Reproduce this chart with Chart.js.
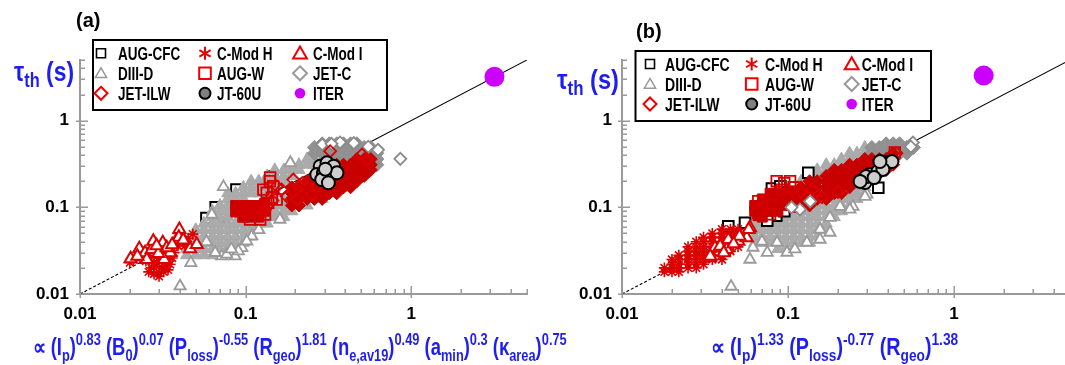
<!DOCTYPE html>
<html><head><meta charset="utf-8">
<script src="https://cdn.jsdelivr.net/npm/chart.js@4/dist/chart.umd.min.js"></script>
<style>
html,body{margin:0;padding:0;background:#fff;overflow:hidden;width:1065px;height:365px}
#wrap{position:relative;width:1065px;height:365px;overflow:hidden;background:#fff}
.layer{position:absolute;left:0;top:0}
</style></head><body>
<div id="wrap">
<canvas id="ca" class="layer" width="1065" height="365"></canvas>
<canvas id="cb" class="layer" width="1080" height="365"></canvas>
</div>
<script>
// ================= DATA =================
const xTickValues = [0.01,0.02,0.03,0.04,0.05,0.06,0.07,0.08,0.09,0.1,0.2,0.3,0.4,0.5,0.6,0.7,0.8,0.9,1,2,3,4,5];
const yTickValues = [0.01,0.02,0.03,0.04,0.05,0.06,0.07,0.08,0.09,0.1,0.2,0.3,0.4,0.5,0.6,0.7,0.8,0.9,1,2,3,4,5];
const majorTickValues = [0.01,0.1,1];
const majorTickLabels = ['0.01','0.1','1'];
const legendLabels = ['AUG-CFC','C-Mod H','C-Mod I','DIII-D','AUG-W','JET-C','JET-ILW','JT-60U','ITER'];
const fitLine = [[0.01,0.01],[0.06,0.06],[5,5]];

// ---- panel (a) ----
const aDIIIDCloud = [[0.044,0.028],[0.044,0.033],[0.044,0.039],
[0.05,0.028],[0.05,0.033],[0.05,0.039],[0.05,0.046],[0.05,0.055],
[0.056,0.028],[0.056,0.033],[0.056,0.039],[0.056,0.046],[0.056,0.055],[0.056,0.065],
[0.063,0.028],[0.063,0.033],[0.063,0.039],[0.063,0.046],[0.063,0.055],[0.063,0.065],[0.063,0.077],[0.063,0.09],
[0.07,0.028],[0.07,0.033],[0.07,0.039],[0.07,0.046],[0.07,0.055],[0.07,0.065],[0.07,0.077],[0.07,0.09],[0.07,0.105],
[0.078,0.033],[0.078,0.039],[0.078,0.046],[0.078,0.055],[0.078,0.065],[0.078,0.077],[0.078,0.09],[0.078,0.105],[0.078,0.125],[0.078,0.145],
[0.087,0.033],[0.087,0.039],[0.087,0.046],[0.087,0.055],[0.087,0.065],[0.087,0.125],[0.087,0.145],
[0.097,0.039],[0.097,0.046],[0.097,0.055],[0.097,0.065],[0.097,0.125],[0.097,0.145],[0.097,0.17],
[0.108,0.046],[0.108,0.055],[0.108,0.065],[0.108,0.145],[0.108,0.17],[0.108,0.2],
[0.12,0.055],[0.12,0.065],[0.12,0.145],[0.12,0.17],[0.12,0.2],
[0.135,0.065],[0.135,0.077],[0.135,0.09],[0.135,0.105],[0.135,0.125],[0.135,0.145],[0.135,0.17],[0.135,0.2],[0.135,0.23],
[0.15,0.077],[0.15,0.09],[0.15,0.105],[0.15,0.125],[0.15,0.145],[0.15,0.17],[0.15,0.2],[0.15,0.23],[0.15,0.27],
[0.17,0.077],[0.17,0.09],[0.17,0.105],[0.17,0.125],[0.17,0.2],[0.17,0.23],[0.17,0.27],
[0.19,0.09],[0.19,0.105],[0.19,0.23],[0.19,0.27],[0.19,0.31],
[0.21,0.105],[0.21,0.27],[0.21,0.31],
[0.235,0.105],[0.235,0.125],[0.235,0.31],[0.235,0.36],
[0.26,0.125],[0.26,0.31],[0.26,0.36],
[0.29,0.125],[0.29,0.145],[0.29,0.36],
[0.32,0.145],[0.32,0.36],[0.32,0.42]];
const aDIIIDOpen = [[0.0735,0.172],[0.0625,0.0826],[0.0402,0.0123],[0.0467,0.0229],[0.0948,0.0341],[0.109,0.0464],[0.0864,0.0273],[0.0718,0.0273],[0.161,0.0723],[0.186,0.326],[0.0655,0.0299],[0.0769,0.0286],[0.1016,0.0406],[0.0904,0.0312],[0.058,0.04],[0.082,0.033],[0.12,0.055]];
const aJETCCloud = [[0.26,0.42],[0.26,0.49],[0.29,0.42],[0.29,0.49],[0.29,0.54],[0.32,0.42],[0.32,0.49],[0.32,0.54],
[0.355,0.36],[0.355,0.42],[0.355,0.49],[0.355,0.54],[0.39,0.36],[0.39,0.42],[0.39,0.49],[0.39,0.54],
[0.43,0.36],[0.43,0.42],[0.43,0.49],[0.43,0.54],[0.47,0.36],[0.47,0.42],[0.47,0.49],[0.47,0.54],
[0.52,0.31],[0.52,0.36],[0.52,0.42],[0.52,0.49],[0.57,0.31],[0.57,0.36],[0.57,0.42],[0.57,0.49],
[0.62,0.31],[0.62,0.36],[0.62,0.42],[0.45,0.2],[0.5,0.23],[0.55,0.26],[0.4,0.18]];
const aJETCOpen = [[0.29,0.53],[0.372,0.56],[0.55,0.5],[0.859,0.362],[0.63,0.46],[0.33,0.54],[0.45,0.55]];
const aAUGCFC = [[0.145,0.226],[0.075,0.058],[0.088,0.16],[0.083,0.13],[0.066,0.1],[0.1,0.07],[0.058,0.075]];
const aCModH = [[0.026,0.018],[0.028,0.017],[0.030,0.0175],[0.032,0.018],[0.034,0.019],[0.027,0.020],[0.029,0.021],[0.031,0.020],[0.033,0.021],[0.035,0.022],[0.028,0.023],[0.030,0.024],[0.032,0.023],[0.034,0.025],[0.036,0.026],[0.025,0.024],[0.023,0.026],[0.021,0.025],[0.026,0.028],[0.029,0.027],[0.031,0.029],[0.034,0.031],[0.037,0.030],[0.039,0.036],[0.042,0.040],[0.045,0.044],[0.048,0.049],[0.043,0.036],[0.030,0.016],[0.024,0.031],[0.027,0.034],[0.020,0.023]];
const aAUGWCloud = [[0.087,0.09],[0.087,0.105],[0.092,0.1],[0.097,0.077],[0.097,0.09],[0.097,0.105],[0.103,0.084],[0.108,0.077],[0.108,0.09],[0.108,0.105],[0.115,0.098],[0.12,0.077],[0.12,0.09],[0.12,0.105],[0.13,0.09],[0.13,0.11]];
const aAUGWOpen = [[0.1406,0.221],[0.147,0.175],[0.134,0.147],[0.144,0.129],[0.137,0.113],[0.154,0.123],[0.0927,0.103],[0.1016,0.0944],[0.1115,0.103],[0.117,0.0865],[0.097,0.0789],[0.1224,0.0723],[0.0885,0.0902],[0.1064,0.0723],[0.125,0.103],[0.131,0.0826],[0.14,0.2],[0.128,0.16]];
const aJETILWCloud = [[0.19,0.105],[0.19,0.125],[0.19,0.145],[0.19,0.17],
[0.21,0.105],[0.21,0.125],[0.21,0.145],[0.21,0.17],
[0.235,0.125],[0.235,0.145],[0.235,0.17],[0.235,0.2],
[0.26,0.125],[0.26,0.145],[0.26,0.17],[0.26,0.2],[0.26,0.23],
[0.29,0.125],[0.29,0.145],[0.29,0.17],[0.29,0.2],[0.29,0.23],[0.29,0.27],
[0.32,0.145],[0.32,0.17],[0.32,0.2],[0.32,0.23],[0.32,0.27],
[0.355,0.145],[0.355,0.17],[0.355,0.2],[0.355,0.23],[0.355,0.27],[0.355,0.31],
[0.39,0.17],[0.39,0.2],[0.39,0.23],[0.39,0.27],[0.39,0.31],
[0.43,0.17],[0.43,0.2],[0.43,0.23],[0.43,0.27],[0.43,0.31],
[0.47,0.2],[0.47,0.23],[0.47,0.27],[0.47,0.31],[0.47,0.36],
[0.52,0.23],[0.52,0.27],[0.52,0.31],[0.52,0.36],
[0.57,0.27],[0.57,0.31],[0.57,0.36]];
const aJETILWOpen = [[0.324,0.444],[0.504,0.406],[0.194,0.209],[0.154,0.175],[0.177,0.134],[0.131,0.0944],[0.251,0.141],[0.269,0.175],[0.54,0.356],[0.128,0.09],[0.204,0.123],[0.213,0.175],[0.165,0.16],[0.22,0.19],[0.145,0.12]];
const aCModI = [[0.0202,0.0255],[0.0228,0.0332],[0.0247,0.0299],[0.0271,0.0326],[0.0277,0.0406],[0.0316,0.039],[0.035,0.0299],[0.0322,0.025],[0.0253,0.025],[0.0222,0.0273],[0.0384,0.0425],[0.0398,0.0555],[0.0297,0.0293],[0.0462,0.0332],[0.0334,0.0341],[0.0507,0.0372],[0.0395,0.045],[0.029,0.036],[0.036,0.037],[0.042,0.042]];
const aJT60U = [[0.282,0.298],[0.31,0.326],[0.34,0.298],[0.269,0.239],[0.295,0.25],[0.324,0.239],[0.356,0.25],[0.288,0.209],[0.316,0.192],[0.303,0.275]];
const aITER = [[3.18,3.2]];

// ---- panel (b) ----
const bDIIIDCloud = [[0.056,0.046],[0.056,0.055],[0.056,0.065],
[0.063,0.039],[0.063,0.046],[0.063,0.055],[0.063,0.065],[0.063,0.077],
[0.07,0.039],[0.07,0.046],[0.07,0.055],[0.07,0.065],
[0.078,0.039],[0.078,0.046],[0.078,0.055],[0.078,0.065],[0.078,0.077],
[0.087,0.033],[0.087,0.039],[0.087,0.046],[0.087,0.055],[0.087,0.065],[0.087,0.077],
[0.097,0.033],[0.097,0.039],[0.097,0.046],[0.097,0.055],[0.097,0.065],[0.097,0.077],
[0.108,0.033],[0.108,0.039],[0.108,0.046],[0.108,0.055],[0.108,0.065],[0.108,0.077],[0.108,0.09],
[0.12,0.039],[0.12,0.046],[0.12,0.055],[0.12,0.065],[0.12,0.077],[0.12,0.09],
[0.135,0.039],[0.135,0.046],[0.135,0.055],[0.135,0.065],[0.135,0.077],[0.135,0.09],
[0.15,0.046],[0.15,0.055],[0.15,0.065],[0.15,0.077],[0.15,0.09],[0.15,0.105],
[0.17,0.055],[0.17,0.065],[0.17,0.077],[0.17,0.09],[0.17,0.105],
[0.19,0.077],[0.19,0.09],[0.19,0.105],[0.19,0.125],
[0.21,0.09],[0.21,0.105],[0.21,0.125],
[0.235,0.105],[0.235,0.125],[0.235,0.145],
[0.26,0.125],[0.26,0.145],[0.26,0.17],
[0.29,0.145],[0.29,0.17],
[0.12,0.2],[0.135,0.23],[0.15,0.23],[0.15,0.27],[0.17,0.27],[0.17,0.31],[0.19,0.31],[0.21,0.31],[0.21,0.36],[0.235,0.36],[0.235,0.42],[0.26,0.36],[0.26,0.42],[0.29,0.42],[0.29,0.49]];
const bDIIIDOpen = [[0.059,0.025],[0.0615,0.0344],[0.0697,0.0403],[0.0454,0.0122],[0.0986,0.0301],[0.13,0.0393],[0.156,0.0425],[0.179,0.0512],[0.246,0.102],[0.299,0.141],[0.0859,0.0393],[0.236,0.0944],[0.291,0.133],[0.206,0.102],[0.179,0.0762],[0.156,0.0555],[0.11,0.033],[0.075,0.03]];
const bJETCCloud = [[0.32,0.42],[0.32,0.49],[0.355,0.42],[0.355,0.49],[0.39,0.42],[0.39,0.49],[0.39,0.54],[0.43,0.42],[0.43,0.49],[0.43,0.54],[0.47,0.42],[0.47,0.49],[0.47,0.54],[0.52,0.42],[0.52,0.49],[0.57,0.49]];
const bJETCOpen = [[0.118,0.0944],[0.136,0.117],[0.566,0.559],[0.55,0.5],[0.105,0.1]];
const bAUGCFC = [[0.0437,0.0605],[0.0551,0.0663],[0.1325,0.25],[0.35,0.168],[0.08,0.165],[0.09,0.175],[0.085,0.08],[0.095,0.09],[0.075,0.07],[0.1,0.15]];
const bCModH = [[0.018,0.018],[0.018,0.02],
[0.02,0.018],[0.02,0.02],[0.02,0.022],[0.02,0.025],
[0.022,0.018],[0.022,0.02],[0.022,0.022],[0.022,0.025],[0.022,0.028],
[0.025,0.02],[0.025,0.022],[0.025,0.025],[0.025,0.028],[0.025,0.031],[0.025,0.035],
[0.028,0.02],[0.028,0.022],[0.028,0.025],[0.028,0.028],[0.028,0.031],[0.028,0.035],[0.028,0.04],
[0.031,0.022],[0.031,0.025],[0.031,0.028],[0.031,0.031],[0.031,0.035],[0.031,0.04],[0.031,0.045],
[0.035,0.025],[0.035,0.028],[0.035,0.031],[0.035,0.035],[0.035,0.04],[0.035,0.045],[0.035,0.05],
[0.04,0.025],[0.04,0.028],[0.04,0.031],[0.04,0.035],[0.04,0.04],[0.04,0.045],[0.04,0.05],[0.04,0.056],
[0.045,0.031],[0.045,0.035],[0.045,0.04],[0.045,0.045],[0.045,0.05],[0.045,0.056],
[0.05,0.035],[0.05,0.04],[0.05,0.045],[0.05,0.05],[0.05,0.056]];
const bAUGWCloud = [[0.063,0.09],[0.063,0.105],[0.07,0.077],[0.07,0.09],[0.07,0.105],[0.07,0.125],[0.078,0.09],[0.078,0.105],[0.078,0.125],[0.078,0.145],[0.087,0.09],[0.087,0.105],[0.087,0.125],[0.087,0.145],[0.097,0.105],[0.097,0.125],[0.097,0.145],[0.108,0.1],[0.108,0.125],[0.108,0.145],[0.066,0.08]];
const bAUGWOpen = [[0.0662,0.1175],[0.0662,0.0863],[0.0916,0.16],[0.103,0.2],[0.0855,0.2],[0.0815,0.141],[0.078,0.083],[0.095,0.19],[0.108,0.17],[0.07,0.1],[0.1,0.13],[0.44,0.43]];
const bJETILWCloud = [[0.12,0.105],[0.12,0.125],[0.12,0.145],[0.12,0.17],
[0.135,0.105],[0.135,0.125],[0.135,0.145],[0.135,0.17],[0.135,0.2],
[0.15,0.125],[0.15,0.145],[0.15,0.17],[0.15,0.2],
[0.17,0.125],[0.17,0.145],[0.17,0.17],[0.17,0.2],[0.17,0.23],
[0.19,0.145],[0.19,0.17],[0.19,0.2],[0.19,0.23],[0.19,0.27],
[0.21,0.145],[0.21,0.17],[0.21,0.2],[0.21,0.23],[0.21,0.27],
[0.235,0.17],[0.235,0.2],[0.235,0.23],[0.235,0.27],[0.235,0.31],
[0.26,0.2],[0.26,0.23],[0.26,0.27],[0.26,0.31],
[0.29,0.2],[0.29,0.23],[0.29,0.27],[0.29,0.31],[0.29,0.36],
[0.32,0.23],[0.32,0.27],[0.32,0.31],[0.32,0.36],
[0.355,0.27],[0.355,0.31],[0.355,0.36],
[0.39,0.27],[0.39,0.31],[0.39,0.36],
[0.43,0.31],[0.43,0.36],[0.43,0.42]];
const bJETILWOpen = [[0.12,0.15],[0.14,0.16],[0.2,0.15],[0.45,0.42],[0.16,0.13]];
const bCModI = [[0.0339,0.0262],[0.0363,0.0341],[0.0427,0.0326],[0.0437,0.0425],[0.0502,0.0406],[0.0564,0.0445],[0.059,0.058],[0.034,0.0273],[0.039,0.0356],[0.051,0.0464],[0.058,0.0555],[0.047,0.038],[0.041,0.03]];
const bJT60U = [[0.291,0.193],[0.312,0.239],[0.348,0.259],[0.395,0.329],[0.423,0.337],[0.373,0.273],[0.295,0.226],[0.272,0.199],[0.358,0.337],[0.33,0.22]];
const bITER = [[1.51,3.31]];

// ================= STYLES =================
const FONT = '"Liberation Sans", Arial, Helvetica, sans-serif';
const BLUE = '#1e1ef0';
const DRED = '#c80000';
const ST = {
  diiidCloud: {ps:'triangle', r:7, bw:1, bc:'#a9a9a9', bg:'#ababab'},
  diiidOpen:  {ps:'triangle', r:6.5, bw:1.8, bc:'#9a9a9a', bg:'#ffffff'},
  jetcCloud:  {ps:'rectRot', r:7, bw:1, bc:'#8e8e8e', bg:'#929292'},
  jetcOpen:   {ps:'rectRot', r:6, bw:1.8, bc:'#8a8a8a', bg:'#ffffff'},
  augcfc:     {ps:'rect', r:7.5, bw:2, bc:'#000000', bg:'#ffffff'},
  cmodH:      {ps:'star', r:5.5, bw:1.6, bc:'#dd0000', bg:'#dd0000'},
  augwCloud:  {ps:'rect', r:7, bw:1, bc:DRED, bg:DRED},
  augwOpen:   {ps:'rect', r:7.5, bw:1.8, bc:'#d40000', bg:'rgba(0,0,0,0)'},
  jetilwCloud:{ps:'rectRot', r:6.5, bw:1, bc:DRED, bg:DRED},
  jetilwOpen: {ps:'rectRot', r:6, bw:1.8, bc:'#dd0000', bg:'rgba(0,0,0,0)'},
  cmodI:      {ps:'triangle', r:7, bw:2, bc:'#dd0000', bg:'#ffffff'},
  jt60u:      {ps:'circle', r:6.5, bw:2, bc:'#000000', bg:'#cdcdcd'},
  iter:       {ps:'circle', r:10, bw:0, bc:'#cc00ff', bg:'#cc00ff'}
};

function ds(data, st) {
  return {type:'scatter', data:data, showLine:false,
    pointStyle:st.ps, pointRadius:st.r, pointHoverRadius:st.r, pointBorderWidth:st.bw,
    pointBorderColor:st.bc, pointBackgroundColor:st.bg, borderColor:st.bc, backgroundColor:st.bg};
}
function lineDs() {
  return {type:'line', data:fitLine, borderColor:'#000', borderWidth:1.1,
    segment:{borderDash: c => c.p0DataIndex === 0 ? [3,2] : undefined},
    pointRadius:0, fill:false, tension:0};
}
function isMajor(v){ return majorTickValues.some(m => Math.abs(m - v) < 1e-9); }
function labelFor(v){
  const i = majorTickValues.findIndex(m => Math.abs(m - v) < 1e-9);
  return i >= 0 ? majorTickLabels[i] : '';
}

function drawRich(ctx, parts, x, baseY, targetW, fonts, offs) {
  let w = 0;
  parts.forEach(p => { ctx.font = fonts[p[1]]; w += ctx.measureText(p[0]).width; });
  const s = targetW / w;
  ctx.save();
  ctx.translate(x, baseY); ctx.scale(s, 1);
  ctx.textBaseline = 'alphabetic'; ctx.textAlign = 'left';
  let cx = 0;
  parts.forEach(p => { ctx.font = fonts[p[1]]; ctx.fillText(p[0], cx, offs[p[1]]); cx += ctx.measureText(p[0]).width; });
  ctx.restore();
}

function drawMarker(ctx, m, x, y) {
  ctx.save();
  ctx.lineWidth = m.lw; ctx.strokeStyle = m.stroke; ctx.fillStyle = m.fill;
  ctx.beginPath();
  const r = m.r;
  if (m.shape === 'rect') { ctx.rect(x - r, y - r, 2*r, 2*r); }
  else if (m.shape === 'triangle') {
    for (let k = 0; k < 3; k++) { const a = -Math.PI/2 + k*2*Math.PI/3; const px = x + r*Math.cos(a), py = y + r*Math.sin(a) + r*0.15; k ? ctx.lineTo(px,py) : ctx.moveTo(px,py); }
    ctx.closePath();
  }
  else if (m.shape === 'diamond') { ctx.moveTo(x, y - r); ctx.lineTo(x + r, y); ctx.lineTo(x, y + r); ctx.lineTo(x - r, y); ctx.closePath(); }
  else if (m.shape === 'circle') { ctx.arc(x, y, r, 0, 2*Math.PI); }
  else if (m.shape === 'star') {
    for (let k = 0; k < 3; k++) { const a = Math.PI/2 + k*Math.PI/3; ctx.moveTo(x + r*Math.cos(a), y + r*Math.sin(a)); ctx.lineTo(x - r*Math.cos(a), y - r*Math.sin(a)); }
    ctx.stroke(); ctx.restore(); return;
  }
  if (m.fill !== 'none') ctx.fill();
  if (m.lw > 0) ctx.stroke();
  ctx.restore();
}
const legendMarkers = [
  {shape:'rect', r:4.5, lw:1.6, stroke:'#000', fill:'#fff'},
  {shape:'star', r:6.5, lw:2, stroke:'#ee0000', fill:'none'},
  {shape:'triangle', r:8, lw:2, stroke:'#ee0000', fill:'#fff'},
  {shape:'triangle', r:6.5, lw:1.5, stroke:'#999', fill:'#fff'},
  {shape:'rect', r:5.8, lw:2, stroke:'#ee0000', fill:'#fff'},
  {shape:'diamond', r:7, lw:2, stroke:'#999', fill:'#fff'},
  {shape:'diamond', r:6.5, lw:2, stroke:'#ee0000', fill:'#fff'},
  {shape:'circle', r:5.5, lw:2, stroke:'#000', fill:'#808080'},
  {shape:'circle', r:5.3, lw:0, stroke:'#cc00ff', fill:'#cc00ff'}
];

const decor = {
  id: 'decor',
  afterDraw(chart, args, o) {
    const ctx = chart.ctx, ca = chart.chartArea;
    const xs = chart.scales.x, ys = chart.scales.y;
    ctx.save();
    ctx.strokeStyle = '#9a9a9a'; ctx.lineWidth = 1.5;
    ctx.beginPath();
    xTickValues.forEach(v => {
      const px = Math.round(xs.getPixelForValue(v)) + 0.25;
      if (px > ca.right + 1) return;
      const mj = isMajor(v);
      ctx.moveTo(px, ca.bottom - (mj ? 8 : 5)); ctx.lineTo(px, ca.bottom + (mj ? 4 : 0));
    });
    yTickValues.forEach(v => {
      const py = Math.round(ys.getPixelForValue(v)) + 0.25;
      const mj = isMajor(v);
      ctx.moveTo(ca.left - (mj ? 4 : 0), py); ctx.lineTo(ca.left + (mj ? 8 : 5), py);
    });
    ctx.stroke();
    ctx.restore();

    ctx.save();
    ctx.fillStyle = '#000'; ctx.font = 'bold 20px ' + FONT; ctx.textBaseline = 'alphabetic';
    ctx.fillText(o.letter, o.letterX, o.letterY);
    ctx.restore();

    ctx.save(); ctx.fillStyle = BLUE;
    drawRich(ctx, [['\u03C4','n'],['th','sub'],[' (s)','n']], o.tauX, o.tauY, o.tauW,
      {n:'bold 28px ' + FONT, sub:'bold 20px ' + FONT}, {n:0, sub:6});
    drawRich(ctx, o.formula, o.fX, o.fY, o.fW,
      {n:'bold 23px ' + FONT, sub:'bold 16px ' + FONT, sup:'bold 16px ' + FONT}, {n:0, sub:6, sup:-10});
    ctx.restore();

    const L = o.legend;
    ctx.save();
    ctx.fillStyle = '#fff'; ctx.fillRect(L.x, L.y, L.w, L.h);
    ctx.lineWidth = 2; ctx.strokeStyle = '#000'; ctx.strokeRect(L.x, L.y, L.w, L.h);
    ctx.restore();
    legendLabels.forEach((lab, i) => {
      const c = i % 3, r = Math.floor(i / 3);
      drawMarker(ctx, legendMarkers[i], L.mx[c], L.rows[r]);
      ctx.save();
      ctx.fillStyle = '#000'; ctx.font = 'bold 18px ' + FONT; ctx.textBaseline = 'alphabetic';
      ctx.translate(L.tx[c], L.rows[r] + 6.5); ctx.scale(L.sx, 1);
      ctx.fillText(lab, 0, 0);
      ctx.restore();
    });
  }
};

function makeChart(id, sets, geo, deco) {
  const datasets = [lineDs()].concat(sets.map(s => ds(s[0], s[1])));
  datasets.forEach((d, i) => { d.order = -i; });
  const tickFont = {family: FONT, weight: 'bold', size: 17};
  return new Chart(document.getElementById(id), {
    type: 'scatter',
    data: {datasets: datasets},
    options: {
      responsive: false, animation: false, devicePixelRatio: 1,
      layout: {padding: {left: 0, right: geo.padRight, top: geo.top, bottom: 0}},
      plugins: {legend: {display: false}, tooltip: {enabled: false}, decor: deco},
      scales: {
        x: {type: 'logarithmic', min: 0.01, max: 5, position: 'bottom',
          grid: {display: false, drawTicks: false},
          border: {display: true, color: '#9a9a9a', width: 2},
          afterBuildTicks: s => { s.ticks = xTickValues.map(v => ({value: v})); },
          afterFit: s => { s.height = geo.xH; },
          ticks: {autoSkip: false, maxRotation: 0, padding: 10, color: '#000', font: tickFont, callback: v => labelFor(v)}},
        y: {type: 'logarithmic', min: 0.01, max: 5, position: 'left',
          grid: {display: false, drawTicks: false},
          border: {display: true, color: '#9a9a9a', width: 2},
          afterBuildTicks: s => { s.ticks = yTickValues.map(v => ({value: v})); },
          afterFit: s => { s.width = geo.yW; },
          ticks: {autoSkip: false, padding: geo.yPad, color: '#000', font: tickFont, callback: v => labelFor(v)}}
      }
    },
    plugins: [decor]
  });
}

const formulaA = [['\u221D (I','n'],['p','sub'],[')','n'],['0.83','sup'],[' (B','n'],['0','sub'],[')','n'],['0.07','sup'],
  [' (P','n'],['loss','sub'],[')','n'],['-0.55','sup'],[' (R','n'],['geo','sub'],[')','n'],['1.81','sup'],
  [' (n','n'],['e,av19','sub'],[')','n'],['0.49','sup'],[' (a','n'],['min','sub'],[')','n'],['0.3','sup'],
  [' (\u03BA','n'],['area','sub'],[')','n'],['0.75','sup']];
const formulaB = [['\u221D (I','n'],['p','sub'],[')','n'],['1.33','sup'],[' (P','n'],['loss','sub'],[')','n'],['-0.77','sup'],
  [' (R','n'],['geo','sub'],[')','n'],['1.38','sup']];

makeChart('ca', [
  [aAUGCFC, ST.augcfc], [aDIIIDCloud, ST.diiidCloud], [aJETCCloud, ST.jetcCloud],
  [aDIIIDOpen, ST.diiidOpen], [aJETCOpen, ST.jetcOpen], [aCModH, ST.cmodH],
  [aAUGWCloud, ST.augwCloud], [aAUGWOpen, ST.augwOpen], [aJETILWCloud, ST.jetilwCloud], [aJETILWOpen, ST.jetilwOpen],
  [aCModI, ST.cmodI], [aJT60U, ST.jt60u], [aITER, ST.iter]
], {padRight: 1065 - 527, top: 60, xH: 71, yW: 80, yPad: 11},
{letter:'(a)', letterX:76, letterY:27, tauX:14, tauY:81, tauW:60,
 formula: formulaA, fX:32.7, fY:355, fW:534,
 legend:{x:93, y:40, w:294, h:70, mx:[101,205,300], tx:[118,217,313], rows:[53.3,73.3,93.3], sx:0.75}});

makeChart('cb', [
  [bDIIIDCloud, ST.diiidCloud], [bJETCCloud, ST.jetcCloud], [bAUGCFC, ST.augcfc],
  [bCModH, ST.cmodH], [bAUGWCloud, ST.augwCloud], [bJETILWCloud, ST.jetilwCloud],
  [bAUGWOpen, ST.augwOpen], [bJETILWOpen, ST.jetilwOpen], [bDIIIDOpen, ST.diiidOpen], [bJETCOpen, ST.jetcOpen],
  [bCModI, ST.cmodI], [bJT60U, ST.jt60u], [bITER, ST.iter]
], {padRight: 10, top: 60, xH: 71, yW: 622, yPad: 10},
{letter:'(b)', letterX:636, letterY:38, tauX:557, tauY:89, tauW:62,
 formula: formulaB, fX:710.8, fY:355, fW:247.4,
 legend:{x:635.5, y:51, w:295.5, h:70, mx:[650,751.7,851.7], tx:[665,765,861.7], rows:[64,84,104], sx:0.78}});
</script>
</body></html>
